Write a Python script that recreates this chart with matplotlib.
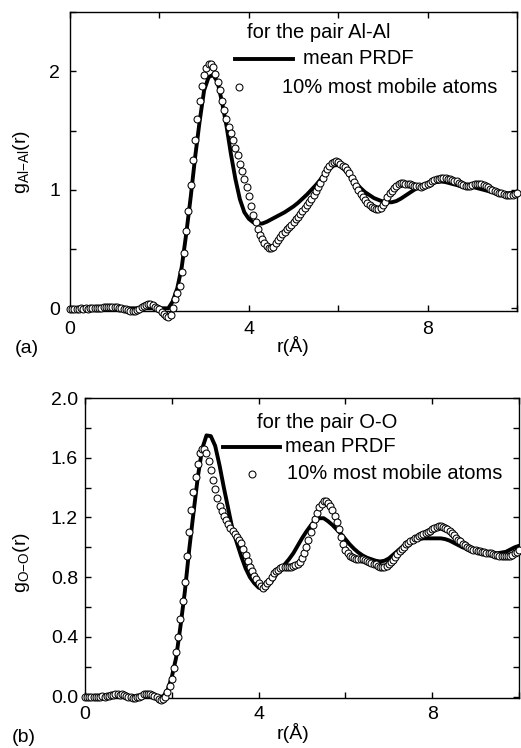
import numpy as np
import matplotlib
matplotlib.use("Agg")
import matplotlib.pyplot as plt

plt.rcParams['font.family'] = ['Liberation Sans', 'DejaVu Sans']
plt.rcParams['mathtext.fontset'] = 'custom'
plt.rcParams['mathtext.rm'] = 'Liberation Sans'
plt.rcParams['mathtext.it'] = 'Liberation Sans:italic'

# r grids: mean curve every 0.1 A, mobile-atom points every 0.05 A
r_line = np.arange(101) * 0.1
r_pts = np.arange(201) * 0.05

# g_Al-Al(r), mean PRDF
al_mean = [
    0, 0, 0, 0, 0, 0, 0, 0, 0, 0,
    0, 0, 0, 0, 0, 0, 0, 0, 0, 0,
    0.0, 0.0, 0.0, 0.06, 0.17, 0.35, 0.63, 0.94, 1.28, 1.58,
    1.84, 1.95, 1.97, 1.91, 1.74, 1.54, 1.30, 1.09, 0.92, 0.81,
    0.755, 0.725, 0.715, 0.715, 0.73, 0.75, 0.77, 0.79, 0.81, 0.835,
    0.86, 0.89, 0.925, 0.96, 1.00, 1.04, 1.085, 1.135, 1.175, 1.205,
    1.21, 1.185, 1.145, 1.095, 1.055, 1.015, 0.98, 0.955, 0.93, 0.915,
    0.90, 0.895, 0.895, 0.905, 0.925, 0.95, 0.975, 1.00, 1.02, 1.035,
    1.05, 1.06, 1.065, 1.07, 1.065, 1.055, 1.045, 1.035, 1.03, 1.03,
    1.025, 1.015, 1.005, 0.995, 0.985, 0.98, 0.975, 0.97, 0.97, 0.975,
    0.985,
]

# g_Al-Al(r), 10% most mobile atoms
al_mobile = [
    -0.01, -0.01, -0.005, -0.01, -0.005, 0.0, -0.005, 0.0, -0.005, 0.0,
    0.0, 0.005, 0.0, 0.005, 0.005, 0.01, 0.01, 0.01, 0.015, 0.015,
    0.01, 0.01, 0.005, 0.0, -0.005, -0.01, -0.015, -0.02, -0.02, -0.02,
    -0.015, -0.005, 0.01, 0.02, 0.03, 0.035, 0.035, 0.03, 0.015, 0.0,
    -0.01, -0.03, -0.05, -0.065, -0.07, -0.055, 0.0, 0.08, 0.13, 0.19,
    0.31, 0.47, 0.65, 0.82, 1.04, 1.25, 1.42, 1.60, 1.75, 1.88,
    1.97, 2.03, 2.06, 2.06, 2.04, 1.98, 1.91, 1.84, 1.75, 1.67,
    1.60, 1.53, 1.48, 1.42, 1.35, 1.29, 1.22, 1.16, 1.09, 1.02,
    0.95, 0.86, 0.79, 0.73, 0.67, 0.62, 0.585, 0.555, 0.525, 0.51,
    0.51, 0.52, 0.555, 0.58, 0.605, 0.625, 0.645, 0.665, 0.685, 0.705,
    0.725, 0.75, 0.77, 0.795, 0.82, 0.845, 0.87, 0.895, 0.92, 0.955,
    0.99, 1.02, 1.055, 1.10, 1.14, 1.175, 1.20, 1.225, 1.235, 1.24,
    1.235, 1.22, 1.20, 1.19, 1.17, 1.14, 1.10, 1.065, 1.03, 0.995,
    0.965, 0.94, 0.91, 0.89, 0.87, 0.855, 0.845, 0.84, 0.84, 0.85,
    0.87, 0.90, 0.935, 0.97, 0.99, 1.015, 1.035, 1.05, 1.055, 1.055,
    1.05, 1.05, 1.045, 1.04, 1.035, 1.03, 1.03, 1.025, 1.03, 1.04,
    1.05, 1.06, 1.07, 1.08, 1.09, 1.095, 1.10, 1.10, 1.10, 1.095,
    1.09, 1.085, 1.075, 1.07, 1.06, 1.05, 1.04, 1.035, 1.035, 1.035,
    1.04, 1.045, 1.05, 1.05, 1.045, 1.04, 1.03, 1.02, 1.01, 1.00,
    0.99, 0.98, 0.975, 0.97, 0.965, 0.96, 0.955, 0.955, 0.96, 0.965,
    0.97,
]

# g_O-O(r), mean PRDF
oo_mean = [
    0, 0, 0, 0, 0, 0, 0, 0, 0, 0,
    0, 0, 0, 0, 0, 0, 0, 0, 0.0, 0.04,
    0.13, 0.26, 0.47, 0.70, 0.98, 1.23, 1.47, 1.66, 1.75, 1.745,
    1.68, 1.55, 1.40, 1.26, 1.12, 1.03, 0.94, 0.86, 0.80, 0.76,
    0.73, 0.72, 0.74, 0.77, 0.815, 0.85, 0.885, 0.92, 0.96, 1.01,
    1.06, 1.105, 1.145, 1.18, 1.195, 1.195, 1.175, 1.15, 1.12, 1.09,
    1.055, 1.02, 0.99, 0.965, 0.945, 0.93, 0.92, 0.91, 0.905, 0.91,
    0.925, 0.95, 0.975, 1.0, 1.025, 1.04, 1.05, 1.055, 1.06, 1.06,
    1.06, 1.06, 1.06, 1.055, 1.045, 1.03, 1.015, 1.0, 0.99, 0.98,
    0.975, 0.97, 0.965, 0.96, 0.96, 0.96, 0.965, 0.97, 0.985, 1.0,
    1.01,
]

# g_O-O(r), 10% most mobile atoms
oo_mobile = [
    0.0, -0.005, 0.0, -0.005, 0.0, 0.0, -0.005, 0.0, 0.005, 0.0,
    0.005, 0.005, 0.01, 0.01, 0.015, 0.015, 0.01, 0.015, 0.01, 0.005,
    0.0, -0.005, -0.01, -0.01, -0.005, 0.0, 0.005, 0.015, 0.02, 0.02,
    0.015, 0.01, 0.005, -0.005, -0.015, -0.02, -0.015, 0.0, 0.03, 0.07,
    0.12, 0.19, 0.30, 0.40, 0.52, 0.64, 0.77, 0.94, 1.10, 1.25,
    1.37, 1.47, 1.56, 1.63, 1.66, 1.66, 1.63, 1.58, 1.52, 1.45,
    1.39, 1.33, 1.28, 1.24, 1.21, 1.18, 1.155, 1.13, 1.11, 1.09,
    1.07, 1.05, 1.03, 0.99, 0.95, 0.91, 0.87, 0.84, 0.81, 0.79,
    0.76, 0.74, 0.73, 0.74, 0.76, 0.775, 0.80, 0.83, 0.84, 0.85,
    0.86, 0.865, 0.865, 0.87, 0.87, 0.87, 0.875, 0.88, 0.885, 0.90,
    0.93, 0.96, 1.00, 1.05, 1.10, 1.15, 1.19, 1.23, 1.27, 1.29,
    1.31, 1.31, 1.30, 1.28, 1.25, 1.21, 1.17, 1.12, 1.07, 1.02,
    0.98, 0.96, 0.945, 0.935, 0.93, 0.925, 0.925, 0.92, 0.92, 0.915,
    0.91, 0.90, 0.895, 0.89, 0.885, 0.875, 0.87, 0.87, 0.87, 0.875,
    0.885, 0.90, 0.915, 0.935, 0.955, 0.975, 0.99, 1.005, 1.02, 1.03,
    1.04, 1.05, 1.06, 1.065, 1.075, 1.08, 1.09, 1.095, 1.105, 1.11,
    1.12, 1.13, 1.135, 1.14, 1.14, 1.135, 1.13, 1.12, 1.11, 1.095,
    1.08, 1.065, 1.05, 1.04, 1.025, 1.015, 1.005, 0.995, 0.99, 0.985,
    0.98, 0.975, 0.975, 0.97, 0.97, 0.965, 0.96, 0.96, 0.955, 0.95,
    0.95, 0.945, 0.945, 0.94, 0.94, 0.94, 0.945, 0.95, 0.96, 0.97,
    0.98,
]

FS = 14
MS = 5.0

fig = plt.figure(figsize=(5.21, 7.48), dpi=100)
ax1 = fig.add_axes([0.1344, 0.5842, 0.858, 0.3997])
ax2 = fig.add_axes([0.1631, 0.0668, 0.833, 0.401])


def draw_panel(ax, mean, mobile):
    ax.plot(r_line, mean, color='black', lw=2.8, zorder=2,
            solid_capstyle='round', solid_joinstyle='round')
    ax.plot(r_pts, mobile, 'o', ms=MS, mfc='white', mec='black', mew=0.75,
            zorder=3, clip_on=False)
    ax.set_xlim(0, 10)
    ax.set_xticks([0, 4, 8])
    ax.set_xticks([2, 6, 10], minor=True)
    ax.tick_params(which='both', direction='in', top=True, right=True,
                   length=4, width=1.0, labelsize=FS)
    for s in ax.spines.values():
        s.set_linewidth(1.0)


def draw_key(ax, title, ty, lx, ly, tx, my):
    # hand-placed key in axes fractions
    ax.text(ty[0], ty[1], title, transform=ax.transAxes, fontsize=14.5,
            va='center', ha='left')
    ax.plot(lx, [ly, ly], color='black', lw=2.8, transform=ax.transAxes,
            clip_on=False)
    ax.text(tx[0], ly, 'mean PRDF', transform=ax.transAxes, fontsize=14.5,
            va='center', ha='left')
    ax.plot([my[0]], [my[1]], 'o', ms=MS, mfc='white', mec='black',
            mew=0.75, transform=ax.transAxes, clip_on=False)
    ax.text(tx[1], my[1], '10% most mobile atoms', transform=ax.transAxes,
            fontsize=14.5, va='center', ha='left')


# (a) Al-Al
draw_panel(ax1, al_mean, al_mobile)
ax1.set_ylim(-0.023, 2.5)
ax1.set_yticks([0, 1, 2])
ax1.set_yticks([0.5, 1.5, 2.5], minor=True)
ax1.tick_params(axis='y', pad=7)
ax1.tick_params(axis='x', pad=7)
ax1.set_ylabel(r'g$_{\mathrm{Al{-}Al}}$(r)', fontsize=FS)
ax1.yaxis.set_label_coords(-0.085, 0.5)
ax1.set_xlabel('r(Å)', fontsize=FS)
ax1.xaxis.set_label_coords(0.499, -0.084)
draw_key(ax1, 'for the pair Al-Al', (0.396, 0.930), [0.369, 0.499], 0.843,
         (0.521, 0.474), (0.378, 0.749))
fig.text(15 / 521, 1 - 348 / 748, '(a)', fontsize=FS, va='center', ha='left')

# (b) O-O
draw_panel(ax2, oo_mean, oo_mobile)
ax2.set_ylim(-0.01, 2.0)
ax2.set_yticks([0.0, 0.4, 0.8, 1.2, 1.6, 2.0])
ax2.set_yticks([0.2, 0.6, 1.0, 1.4, 1.8], minor=True)
ax2.yaxis.set_major_formatter(plt.FormatStrFormatter('%.1f'))
ax2.tick_params(axis='y', pad=5)
ax2.tick_params(axis='x', pad=5.5)
ax2.set_ylabel(r'g$_{\mathrm{O{-}O}}$(r)', fontsize=FS)
ax2.yaxis.set_label_coords(-0.122, 0.453)
ax2.set_xlabel('r(Å)', fontsize=FS)
ax2.xaxis.set_label_coords(0.479, -0.083)
draw_key(ax2, 'for the pair O-O', (0.396, 0.92), [0.318, 0.449], 0.837,
         (0.461, 0.465), (0.385, 0.747))
fig.text(12 / 521, 1 - 737 / 748, '(b)', fontsize=FS, va='center', ha='left')

fig.savefig('out.png', dpi=100)
